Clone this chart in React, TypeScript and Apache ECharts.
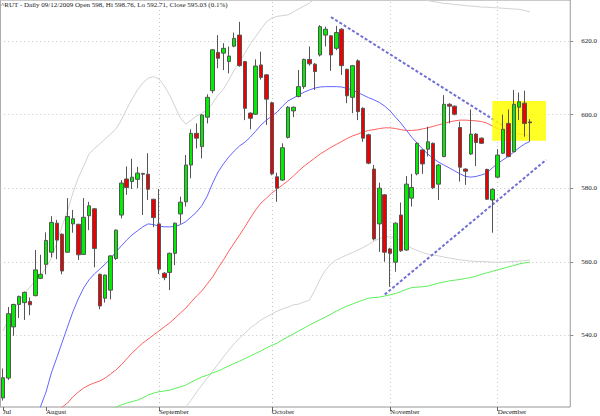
import React, { useEffect, useRef } from "react";
import * as echarts from "echarts";

const titleText = "^RUT - Daily 09/12/2009 Open 598, Hi 598.76, Lo 592.71, Close 595.03 (0.1%)";

const dates = [
  "07/22", "07/23", "07/24", "07/27", "07/28", "07/29", "07/30", "07/31",
  "08/03", "08/04", "08/05", "08/06", "08/07", "08/10", "08/11", "08/12", "08/13", "08/14", "08/17", "08/18", "08/19", "08/20", "08/21", "08/24", "08/25", "08/26", "08/27", "08/28", "08/31",
  "09/01", "09/02", "09/03", "09/04", "09/08", "09/09", "09/10", "09/11", "09/14", "09/15", "09/16", "09/17", "09/18", "09/21", "09/22", "09/23", "09/24", "09/25", "09/28", "09/29", "09/30",
  "10/01", "10/02", "10/05", "10/06", "10/07", "10/08", "10/09", "10/12", "10/13", "10/14", "10/15", "10/16", "10/19", "10/20", "10/21", "10/22", "10/23", "10/26", "10/27", "10/28", "10/29", "10/30",
  "11/02", "11/03", "11/04", "11/05", "11/06", "11/09", "11/10", "11/11", "11/12", "11/13", "11/16", "11/17", "11/18", "11/19", "11/20", "11/23", "11/24", "11/25", "11/27", "11/30",
  "12/01", "12/02", "12/03", "12/04", "12/07", "12/08", "12/09",
  "12/10", "12/11", "12/14", "12/15", "12/16", "12/17", "12/18",
];

const opens = [
  523.0, 528.4, 542.3, 548.4, 548.9, 549.2, 550.8, 555.5,
  559.3, 562.6, 570.5, 567.5, 562.6, 570.3, 570.2, 562.0, 572.5, 574.4, 556.6, 550.1, 552.3, 560.9, 572.7, 582.5, 581.8, 582.4, 584.0, 583.8, 577.0,
  570.3, 556.9, 557.1, 562.3, 573.0, 576.3, 586.3, 594.9, 591.3, 599.3, 606.5, 616.9, 616.7, 614.4, 618.6, 621.6, 614.4, 600.4, 600.1, 613.5, 610.8,
  603.2, 583.1, 582.2, 593.8, 601.0, 604.9, 607.6, 615.0, 613.7, 616.2, 621.6, 621.4, 618.0, 623.2, 612.3, 604.7, 614.6, 601.7, 594.5, 585.2, 570.3, 578.2,
  563.5, 559.9, 572.7, 563.2, 577.3, 583.9, 590.4, 590.6, 592.2, 581.1, 588.6, 602.8, 602.3, 596.5, 585.2, 589.3, 594.7, 593.6, 585.1, 576.8,
  583.0, 589.5, 597.6, 589.9, 602.0, 603.1, 598.0,
];
const closes = [
  528.5, 545.9, 548.4, 550.6, 551.7, 548.3, 557.8, 556.6,
  565.8, 570.7, 565.9, 557.5, 572.3, 571.7, 561.9, 572.1, 575.2, 563.6, 548.0, 556.4, 561.6, 568.6, 581.4, 580.2, 583.0, 584.1, 583.8, 579.7, 572.0,
  558.0, 555.7, 562.3, 570.5, 576.2, 586.3, 594.9, 593.6, 599.9, 604.7, 617.6, 615.3, 618.0, 615.9, 620.7, 613.3, 601.7, 599.0, 613.2, 610.1, 604.2,
  583.9, 580.0, 591.0, 602.0, 602.0, 607.6, 615.0, 613.8, 611.7, 623.9, 623.2, 616.2, 622.3, 613.3, 605.1, 613.3, 600.8, 593.6, 586.8, 566.2, 580.0, 562.6,
  562.3, 570.5, 563.0, 581.1, 580.2, 592.2, 586.6, 592.6, 580.1, 586.3, 602.8, 602.3, 600.1, 585.7, 584.6, 594.7, 592.4, 592.2, 577.0, 579.7,
  589.0, 596.0, 588.6, 602.8, 603.5, 597.6, 597.8,
];
const lows = [
  522.3, 527.9, 539.9, 544.7, 544.2, 545.5, 550.6, 555.3,
  556.6, 561.2, 560.7, 556.6, 562.5, 567.9, 560.5, 562.0, 568.6, 558.5, 547.1, 548.9, 549.8, 560.5, 571.8, 578.2, 579.8, 580.0, 572.7, 576.8, 569.4,
  556.7, 555.0, 552.3, 559.1, 570.3, 575.0, 582.7, 590.8, 588.1, 597.6, 605.8, 612.6, 612.1, 611.2, 618.3, 613.0, 598.5, 596.0, 599.9, 609.5, 597.2,
  583.5, 576.3, 582.0, 593.5, 599.3, 604.7, 607.0, 613.3, 606.7, 615.8, 618.5, 611.9, 617.5, 610.8, 603.1, 600.4, 598.5, 592.6, 586.5, 565.8, 562.7, 560.0,
  553.2, 557.3, 562.7, 563.0, 575.0, 583.5, 583.9, 588.6, 579.8, 576.8, 588.4, 597.6, 599.8, 581.8, 580.9, 589.0, 586.0, 592.0, 576.8, 567.9,
  582.8, 589.3, 588.4, 589.7, 598.5, 594.0, 592.71,
];
const highs = [
  531.0, 547.7, 548.6, 550.8, 551.9, 550.3, 563.2, 561.9,
  568.0, 572.4, 571.4, 567.7, 577.3, 574.1, 570.3, 577.3, 576.3, 574.6, 556.8, 556.5, 561.8, 568.8, 582.2, 585.9, 588.0, 585.8, 584.2, 589.5, 577.1,
  579.8, 557.2, 562.5, 570.6, 577.7, 589.0, 596.0, 597.6, 600.1, 605.5, 617.8, 621.6, 619.4, 618.5, 622.3, 625.2, 614.6, 600.6, 615.0, 617.1, 611.0,
  603.5, 584.2, 592.2, 602.3, 602.2, 612.1, 615.2, 618.5, 614.0, 624.3, 623.9, 621.6, 624.1, 623.5, 612.5, 613.5, 615.0, 602.0, 594.8, 586.3, 581.5, 578.4,
  563.8, 570.7, 576.1, 583.3, 583.9, 592.5, 590.6, 596.7, 592.4, 586.5, 605.3, 603.1, 602.5, 598.1, 585.4, 601.4, 595.0, 593.8, 585.3, 580.0,
  590.6, 600.0, 601.4, 606.7, 606.0, 606.5, 598.76,
];

const N = null;
// blue moving average
const maBlue = [
  N, N, N, N, N, N, 516.5, 520.7,
  524.6, 529.8, 533.9, 538.1, 542.3, 546.4, 549.9, 552.9, 555.1, 556.7, 558.0, 559.4, 560.8, 562.7, 564.3, 565.9, 567.3, 568.4, 569.5, 570.3, 570.1,
  569.7, 569.5, 569.5, 569.6, 570.1, 570.9, 572.2, 573.5, 575.3, 577.9, 581.4, 584.4, 586.6, 588.5, 590.1, 591.5, 592.5, 593.9, 595.5, 597.2, 598.5,
  599.6, 600.7, 602.3, 603.7, 604.5, 605.3, 606.1, 606.7, 607.2, 607.5, 607.6, 607.6, 607.6, 607.5, 607.1, 606.7, 606.0, 605.3, 604.6, 604.0, 603.3, 602.3,
  601.0, 599.3, 597.7, 595.8, 593.9, 592.3, 590.7, 589.3, 588.1, 587.1, 586.3, 585.5, 584.7, 583.9, 583.2, 583.0, 583.2, 583.6, 584.1, 585.5,
  586.7, 587.7, 588.7, 589.8, 591.0, 592.0, 592.7,
];
// red moving average
const maRed = [
  N, N, N, N, N, N, N, N,
  N, N, 519.0, 520.5, 521.6, 523.3, 524.6, 525.7, 526.5, 527.1, 527.6, 528.4, 529.5, 530.6, 532.0, 533.6, 535.2, 536.6, 537.9, 539.0, 540.1,
  541.2, 542.3, 543.4, 544.7, 546.1, 547.4, 549.1, 550.7, 552.1, 554.0, 555.9, 558.3, 560.5, 562.9, 565.1, 567.3, 569.5, 571.9, 574.1, 576.0, 577.3,
  578.7, 579.8, 580.9, 582.0, 583.3, 584.7, 586.0, 587.1, 588.2, 589.3, 590.2, 591.1, 591.9, 592.7, 593.5, 594.2, 594.7, 595.3, 595.7, 595.9, 596.2, 596.4,
  596.4, 596.2, 595.9, 595.7, 595.7, 595.8, 596.1, 596.4, 596.8, 597.2, 597.6, 598.0, 598.3, 598.5, 598.5, 598.4, 598.3, 598.1, 597.7, 596.9,
  596.2, 595.7, 595.3, 595.0, 594.7, 594.5, 594.2,
];
// green moving average
const maGreen = [
  N, N, N, N, N, N, N, N,
  N, N, N, N, N, N, N, N, N, N, N, N, 519.5, 520.5, 521.1, 521.6, 522.0, 522.4, 523.0, 523.8, 524.3,
  524.7, 524.9, 525.1, 525.6, 526.0, 526.5, 527.3, 528.0, 528.7, 529.2, 529.8, 530.3, 531.0, 531.7, 532.4, 533.0, 533.7, 534.4, 535.1, 535.8, 536.6,
  537.3, 537.9, 538.8, 539.6, 540.4, 541.2, 542.0, 542.8, 543.6, 544.3, 545.0, 545.8, 546.6, 547.3, 548.0, 548.5, 549.1, 549.6, 550.1, 550.3, 550.4, 550.7,
  551.0, 551.4, 551.9, 552.5, 553.0, 553.1, 553.2, 553.4, 553.8, 554.2, 554.5, 554.8, 555.0, 555.2, 555.5, 555.7, 556.1, 556.6, 557.0, 557.4,
  557.8, 558.2, 558.6, 559.0, 559.4, 559.7, 559.9,
];
// grey bands
const bandUpper = [
  541.2, 544.2, 546.9, 549.3, 551.5, 553.1, 554.8, 556.4,
  558.3, 561.0, 565.1, 569.7, 573.8, 578.7, 582.8, 586.0, 589.3, 590.8, 592.0, 593.4, 594.7, 596.1, 598.5, 601.5, 604.2, 606.7, 608.6, 609.9, 610.3,
  609.7, 607.8, 605.3, 602.1, 599.1, 597.4, 598.5, 599.6, 600.4, 601.2, 603.1, 605.3, 606.9, 609.4, 612.1, 614.4, 616.7, 619.2, 621.2, 623.3, 625.2,
  626.2, 626.7, 626.9, 627.1, 627.9, 628.7, 629.5, 630.3, 631.5, 632.5, 633.5, 634.3, 635.0, 635.5, 635.8, 636.0, 636.0, 635.8, 635.5, 635.0, 634.5, 634.0,
  633.5, 633.0, 632.6, 632.2, 631.9, 631.6, 631.3, 631.0, 630.7, 630.5, 630.2, 630.1, 629.9, 629.8, 629.6, 629.5, 629.4, 629.2, 629.2, 629.1,
  629.0, 628.9, 628.8, 628.7, 628.6, 628.3, 627.9,
];
const bandLower = [
  N, N, N, N, N, N, N, N,
  N, N, N, N, N, N, N, N, N, N, N, N, N, N, N, N, N, N, N, N, N,
  N, N, N, N, 518.0, 520.5, 522.4, 524.6, 526.5, 528.4, 530.3, 532.2, 534.1, 536.0, 537.7, 539.3, 540.6, 542.0, 543.1, 544.2, 545.0,
  545.8, 546.6, 547.2, 547.7, 548.3, 548.5, 549.1, 549.6, 552.3, 555.3, 557.8, 559.4, 560.5, 561.2, 561.9, 562.5, 563.2, 563.9, 564.7, 565.6, 566.3, 566.7,
  566.8, 566.5, 565.6, 564.6, 563.7, 563.1, 562.5, 562.1, 561.9, 561.6, 561.3, 561.0, 560.8, 560.5, 560.4, 560.2, 560.1, 560.1, 560.0, 559.9,
  559.9, 559.9, 560.0, 560.1, 560.2, 560.3, 560.5,
];

// dashed trend lines: [category index, value]
const trendUpper = [[61, 626.5], [93, 597.0]];
const trendLower = [[71, 551.1], [101, 587.7]];

// highlighted box
const boxFrom = 91;
const boxTo = 101;
const boxHigh = 603.7;
const boxLow = 592.9;

// x-axis month labels
const tickIndex = [0, 8, 29, 50, 72, 92];
const tickText = ["Jul", "August", "September", "October", "November", "December"];
const monthGridIndex = [29, 50, 72, 92];

const yMin = 520.54;
const yMax = 631.14;

const FONT = '"Liberation Serif", "Times New Roman", serif';

export default function App() {
  const ref = useRef<HTMLDivElement>(null);

  useEffect(() => {
    if (!ref.current) return;
    const chart = echarts.init(ref.current, null, { renderer: "svg" });
    const candles = opens.map((o, i) => [o, closes[i], lows[i], highs[i]]);

    const lineSeries = (data: any[], color: string) => ({
      type: "line",
      data,
      symbol: "none",
      showSymbol: false,
      silent: true,
      z: 1,
      clip: true,
      lineStyle: { color, width: 1 },
    });

    const trendSeries = (data: number[][]) => ({
      type: "line",
      data,
      symbol: "none",
      silent: true,
      z: 1,
      lineStyle: { color: "#7070d4", width: 2, type: [3, 2] },
    });

    chart.setOption({
      animation: false,
      backgroundColor: "#ffffff",
      title: {
        text: titleText,
        left: 1,
        top: 1,
        padding: 0,
        textStyle: { fontSize: 7, fontWeight: "normal", fontFamily: FONT, color: "#222" },
      },
      grid: {
        left: 0,
        right: 28,
        top: 0,
        bottom: 9,
        show: true,
        borderColor: "#999",
        borderWidth: 1,
      },
      xAxis: {
        type: "category",
        data: dates,
        boundaryGap: true,
        axisLine: { show: false },
        axisTick: {
          show: true,
          alignWithLabel: true,
          length: 4,
          interval: (i: number) => tickIndex.includes(i),
          lineStyle: { color: "#666" },
        },
        axisLabel: {
          interval: (i: number) => tickIndex.includes(i),
          formatter: (_v: string, i: number) => {
            const k = tickIndex.indexOf(i);
            return k >= 0 ? tickText[k] : "";
          },
          align: "left",
          margin: 1,
          fontSize: 7,
          fontFamily: FONT,
          color: "#222",
        },
        splitLine: { show: false },
      },
      yAxis: {
        type: "value",
        position: "right",
        min: yMin,
        max: yMax,
        splitNumber: 5,
        axisLine: { show: false },
        axisTick: { show: true, length: 3, lineStyle: { color: "#888" } },
        axisLabel: {
          formatter: (v: number) => v.toFixed(1),
          showMinLabel: false,
          showMaxLabel: false,
          margin: 11,
          fontSize: 7,
          fontFamily: FONT,
          color: "#222",
        },
        splitLine: { show: true, lineStyle: { color: "#c4c4c4", type: [1, 3], width: 1 } },
      },
      series: [
        lineSeries(bandUpper, "#d2d2d2"),
        lineSeries(bandLower, "#d2d2d2"),
        lineSeries(maGreen, "#5cf05c"),
        lineSeries(maRed, "#ff6060"),
        lineSeries(maBlue, "#6464ff"),
        trendSeries(trendUpper),
        trendSeries(trendLower),
        {
          type: "candlestick",
          data: candles,
          barWidth: 4,
          z: 3,
          silent: true,
          itemStyle: {
            color: "#00ee00",
            color0: "#ee0000",
            borderColor: "#555",
            borderColor0: "#555",
            borderWidth: 1,
          },
          markArea: {
            silent: true,
            z: 2,
            itemStyle: { color: "#ffff00", opacity: 0.85 },
            data: [[
              { xAxis: dates[boxFrom], yAxis: boxHigh },
              { xAxis: dates[boxTo], yAxis: boxLow },
            ]],
          },
          markLine: {
            silent: true,
            symbol: "none",
            z: 0,
            label: { show: false },
            lineStyle: { color: "#c4c4c4", type: [1, 3], width: 1 },
            data: monthGridIndex.map((i) => ({ xAxis: dates[i] })),
          },
        },
      ],
    });

    return () => chart.dispose();
  }, []);

  return (
    <div
      ref={ref}
      style={{ position: "fixed", left: 0, top: 0, width: 600, height: 416 }}
    />
  );
}
